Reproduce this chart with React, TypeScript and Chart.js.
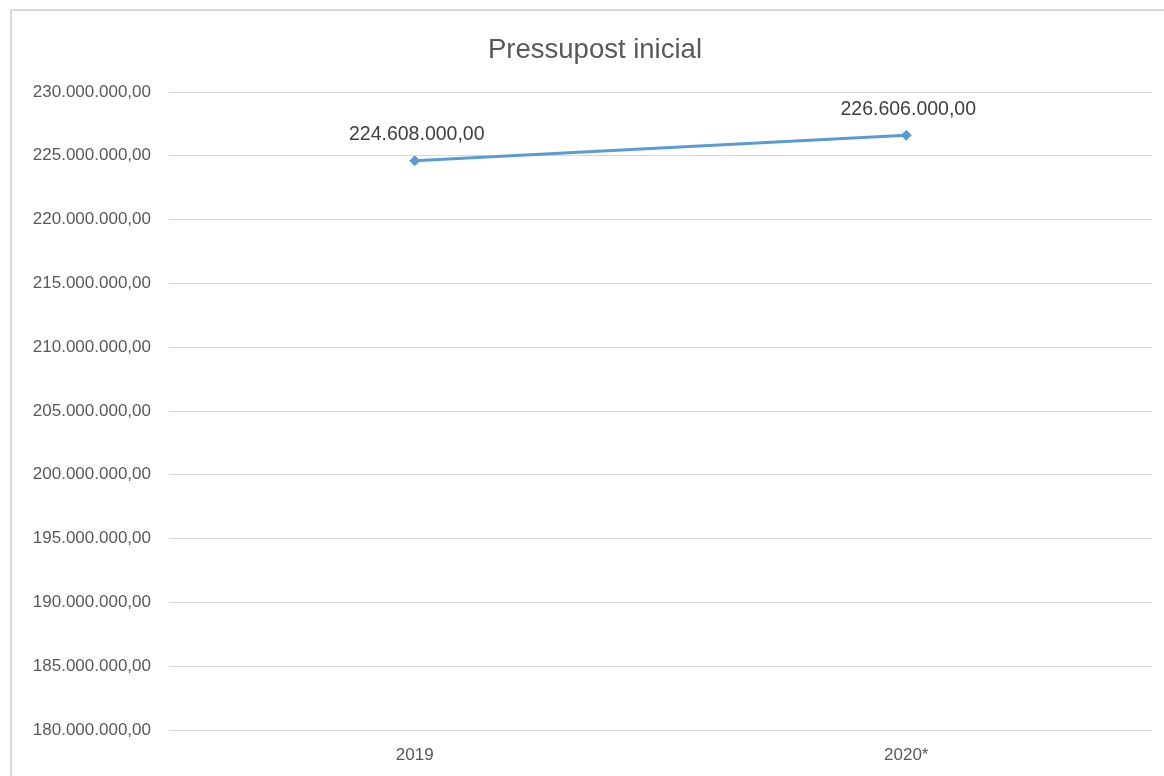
import React, { useEffect, useRef } from "react";
import { Chart, registerables } from "chart.js";

Chart.register(...registerables);

const categories: string[] = ["2019", "2020*"];
const pressupostValues: number[] = [224608000, 226606000];
const chartTitle = "Pressupost inicial";
const yMin = 180000000;
const yMax = 230000000;
const yStep = 5000000;

const fmt = (v: number) =>
  v.toLocaleString("de-DE", { minimumFractionDigits: 2, maximumFractionDigits: 2 });

const FONT = "'Liberation Sans', Arial, sans-serif";

const titlePlugin = {
  id: "customTitle",
  afterDraw(chart: any) {
    const ctx = chart.ctx;
    ctx.save();
    ctx.font = `27.5px ${FONT}`;
    ctx.fillStyle = "#595959";
    ctx.textAlign = "center";
    ctx.textBaseline = "middle";
    ctx.fillText(chartTitle, 595, 50);
    ctx.restore();
  },
};

const dataLabelPlugin = {
  id: "dataLabels",
  afterDatasetsDraw(chart: any) {
    const ctx = chart.ctx;
    ctx.save();
    ctx.font = `19.5px ${FONT}`;
    ctx.fillStyle = "#404040";
    ctx.textAlign = "center";
    ctx.textBaseline = "middle";
    chart.data.datasets.forEach((ds: any, di: number) => {
      const meta = chart.getDatasetMeta(di);
      meta.data.forEach((pt: any, i: number) => {
        ctx.fillText(fmt(ds.data[i]), pt.x + 2, pt.y - 26);
      });
    });
    ctx.restore();
  },
};

export default function App() {
  const ref = useRef<HTMLCanvasElement | null>(null);
  useEffect(() => {
    if (!ref.current) return;
    const chart = new Chart(ref.current, {
      type: "line",
      data: {
        labels: categories,
        datasets: [
          {
            label: chartTitle,
            data: pressupostValues,
            borderColor: "#5b9bd5",
            backgroundColor: "#5b9bd5",
            borderWidth: 3,
            pointStyle: "rectRot",
            pointRadius: 5,
            pointBorderWidth: 1,
            pointBackgroundColor: "#5b9bd5",
            pointBorderColor: "#5b9bd5",
            tension: 0,
          },
        ],
      },
      options: {
        animation: false,
        responsive: false,
        devicePixelRatio: 1,
        layout: { padding: { top: 92, right: 12, left: 0, bottom: 0 } },
        plugins: {
          legend: { display: false },
          title: { display: false },
          tooltip: { enabled: false },
        },
        scales: {
          x: {
            offset: true,
            grid: { display: false, drawTicks: false },
            border: { display: false },
            ticks: { color: "#595959", font: { family: FONT, size: 17 }, padding: 15 },
            afterFit: (s: any) => {
              s.height = 46;
            },
          },
          y: {
            min: yMin,
            max: yMax,
            grid: { color: "#d9d9d9", lineWidth: 1, drawTicks: false },
            border: { display: false },
            ticks: {
              stepSize: yStep,
              color: "#595959",
              font: { family: FONT, size: 17 },
              padding: 18,
              callback: (v: any) => fmt(Number(v)),
            },
            afterFit: (s: any) => {
              s.width = 169;
            },
          },
        },
      },
      plugins: [titlePlugin, dataLabelPlugin],
    });
    return () => chart.destroy();
  }, []);
  return (
    <div
      style={{
        position: "fixed",
        left: 0,
        top: 0,
        width: 1164,
        height: 776,
        background: "#ffffff",
        overflow: "hidden",
      }}
    >
      <div
        style={{
          position: "absolute",
          left: 10,
          top: 9,
          width: 1200,
          height: 820,
          border: "2px solid #d9d9d9",
          boxSizing: "border-box",
        }}
      />
      <canvas
        ref={ref}
        width={1164}
        height={776}
        style={{ position: "absolute", left: 0, top: 0, width: 1164, height: 776 }}
      />
    </div>
  );
}
